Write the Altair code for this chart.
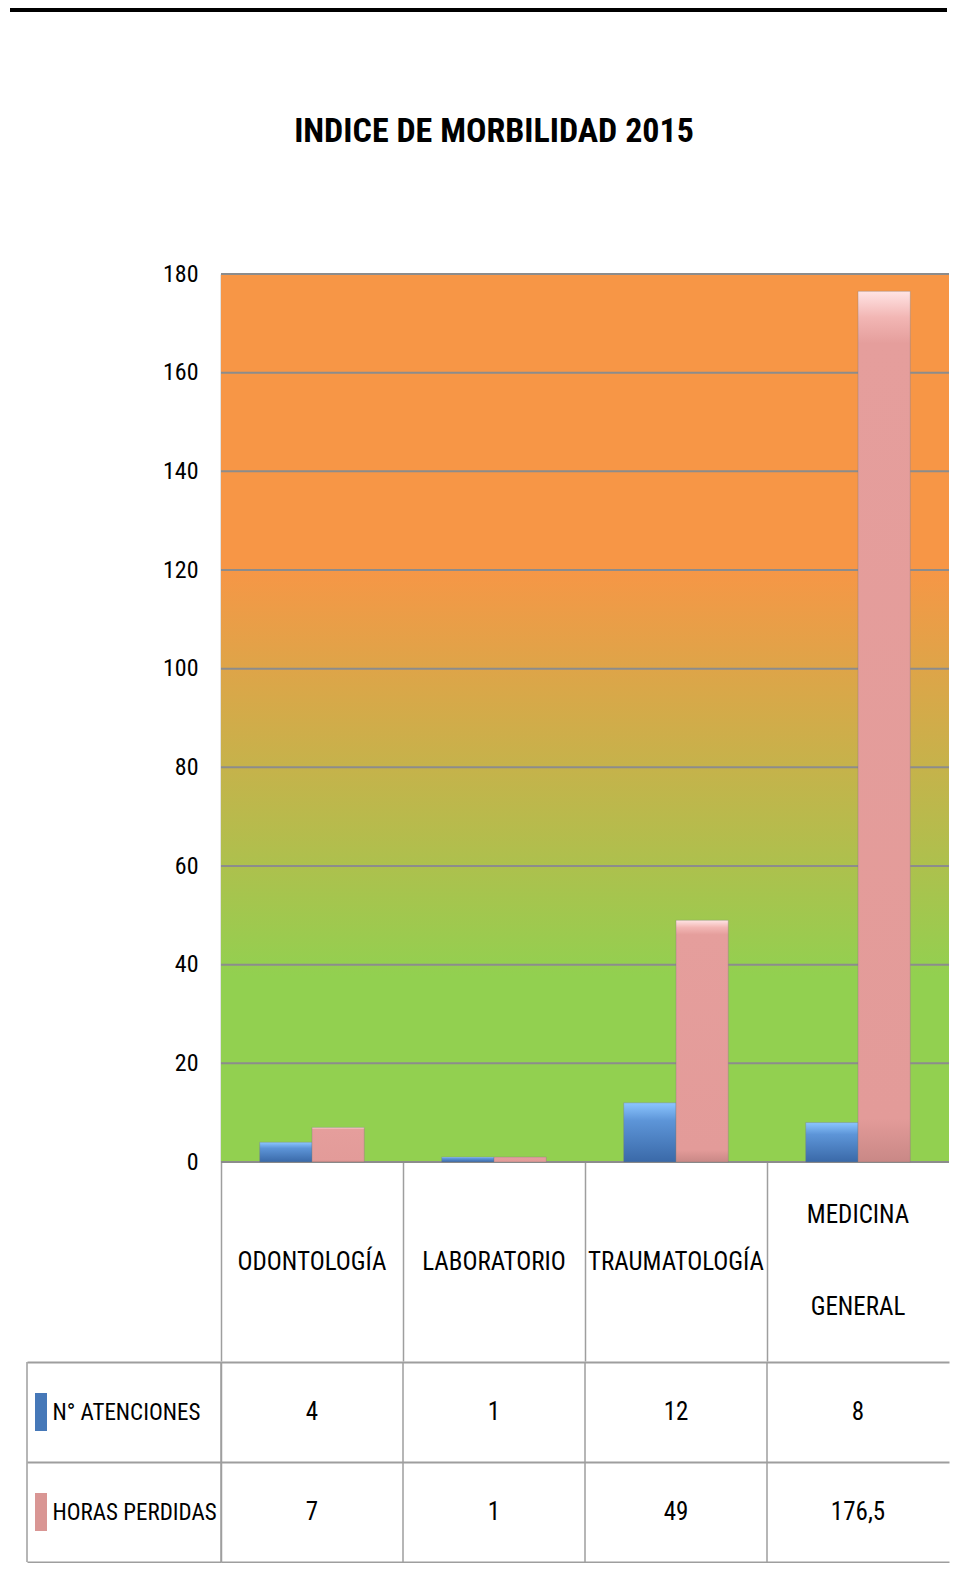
import altair as alt
import pandas as pd

# ---------------- data ----------------
categories = ["ODONTOLOGÍA", "LABORATORIO", "TRAUMATOLOGÍA", "MEDICINA GENERAL"]
series = ["N° ATENCIONES", "HORAS PERDIDAS"]
atenciones = [4, 1, 12, 8]
horas_perdidas = [7, 1, 49, 176.5]
y_ticks = [0, 20, 40, 60, 80, 100, 120, 140, 160, 180]
title_text = "INDICE DE MORBILIDAD 2015"

rows = []
for c, a, h in zip(categories, atenciones, horas_perdidas):
    rows.append({"cat": c, "serie": series[0], "value": a})
    rows.append({"cat": c, "serie": series[1], "value": h})
df = pd.DataFrame(rows)
ticks_df = pd.DataFrame({"tick": y_ticks})
cats_df = pd.DataFrame({"cat": categories})
one = pd.DataFrame({"k": [0]})

# ---------------- styling ----------------
FONT = "Roboto Condensed, Liberation Sans Narrow, Roboto, sans-serif"
W = 728          # visible plot width (keeps the page inside the window)
H = 888          # plot height
HEADER = 199     # category header height
ROW_H = 100
TABLE_H = 2 * ROW_H
LEFT_COL = 194
GRID = "#8C8C8C"
LINEC = "#9E9E9E"
SPACING = -11    # compensates the extent of the two-line header label


def grad(stops):
    return alt.LinearGradient(
        gradient="linear",
        stops=[alt.GradientStop(offset=o, color=c) for o, c in stops],
        x1=0, x2=0, y1=0, y2=1,
    )


bg_grad = grad([(0, "#F79646"), (0.33, "#F79646"), (0.79, "#92D050"), (1, "#92D050")])
blue_grad = grad([(0, "#8CC6FF"), (0.3, "#5D95D8"), (1, "#3A69A8")])
pink_grad = grad([(0, "#FFE4E4"), (0.03, "#F2B6B4"), (0.06, "#E59E9C"),
                  (0.95, "#E39B99"), (1, "#C98886")])

x_scale = alt.Scale(domain=categories, paddingInner=0, paddingOuter=0)
xo_scale = alt.Scale(domain=series, paddingInner=0, paddingOuter=0.74)
y_scale = alt.Scale(domain=[0, 180], nice=False, zero=True)
row_scale = alt.Scale(domain=series, paddingInner=0, paddingOuter=0)

y_axis = alt.Axis(
    title=None, values=y_ticks, grid=False, ticks=False, domain=True,
    domainColor=GRID, domainWidth=1.5, labelFont=FONT, labelFontSize=24,
    labelColor="black", labelPadding=23,
)
x_axis = alt.Axis(
    title=None, orient="bottom", domain=False, grid=False, ticks=True,
    tickSize=HEADER, tickColor=LINEC, tickWidth=1.5, bandPosition=0,
    labelPadding={"condition": {"test": "indexof(datum.value, ' ') >= 0", "value": -147}, "value": -100},
    labelFont=FONT, labelFontSize=25,
    labelColor="black", labelBaseline="middle", labelAngle=0, labelLimit=0,
    labelOverlap=False, labelLineHeight=92, labelExpr="split(datum.label, ' ')",
)

# ---------------- top rule ----------------
top_line = alt.Chart(one).mark_rule(color="black", strokeWidth=4).encode(
    x=alt.value(-211), x2=alt.value(W - 2), y=alt.value(2)
).properties(width=W, height=118)

# ---------------- bar chart ----------------
bg = alt.Chart(one).mark_rect(color=bg_grad).encode(
    x=alt.value(0), x2=alt.value(W), y=alt.value(0), y2=alt.value(H)
)
grid = alt.Chart(ticks_df).mark_rule(color=GRID, strokeWidth=2).encode(
    y=alt.Y("tick:Q", scale=y_scale, axis=y_axis),
    x=alt.value(0), x2=alt.value(W),
)


def bar_layer(name, color):
    return alt.Chart(df).transform_filter(alt.datum.serie == name).mark_bar(
        color=color, stroke="#7A7A7A", strokeOpacity=0.35, strokeWidth=1
    ).encode(
        x=alt.X("cat:N", scale=x_scale, axis=x_axis, sort=categories),
        xOffset=alt.XOffset("serie:N", scale=xo_scale),
        y=alt.Y("value:Q", scale=y_scale, axis=y_axis),
    )


bars = alt.layer(bg, grid, bar_layer(series[0], blue_grad), bar_layer(series[1], pink_grad)).properties(
    width=W, height=H,
    title=alt.Title(title_text, font=FONT, fontSize=34, fontWeight="bold", color="black",
                    anchor="middle", dx=-91, offset=113),
)

# ---------------- data table ----------------
table_y_axis = alt.Axis(
    title=None, orient="left", tickBand="extent", ticks=True, tickSize=LEFT_COL,
    tickColor=LINEC, tickWidth=2, grid=True, gridColor=LINEC, gridWidth=2,
    domain=True, domainColor=LINEC, domainWidth=1.5,
    labelAlign="left", labelBaseline="middle", labelPadding=-25, labelFont=FONT,
    labelFontSize=23, labelColor="black", labelLimit=0,
)

col_lines = alt.Chart(cats_df).mark_rule(color=LINEC, strokeWidth=1.5).encode(
    x=alt.X("cat:N", scale=x_scale, bandPosition=0, axis=None, sort=categories),
    y=alt.value(0), y2=alt.value(TABLE_H),
)
table_text = alt.Chart(df).transform_calculate(
    label="replace(toString(datum.value), '.', ',')"
).mark_text(font=FONT, fontSize=25, color="black", baseline="middle").encode(
    x=alt.X("cat:N", scale=x_scale, axis=None, sort=categories),
    y=alt.Y("serie:N", scale=row_scale, axis=table_y_axis, sort=series),
    text="label:N",
)
legend_marks = alt.Chart(pd.DataFrame({"serie": series})).mark_point(
    shape="M-0.316,-1L0.316,-1L0.316,1L-0.316,1Z", size=1444, filled=True, opacity=1
).encode(
    x=alt.value(-180),
    y=alt.Y("serie:N", scale=row_scale, axis=table_y_axis, sort=series),
    color=alt.Color("serie:N", scale=alt.Scale(domain=series, range=["#4678B8", "#D99694"]), legend=None),
)
left_border = alt.Chart(one).mark_rule(color=LINEC, strokeWidth=1.5).encode(
    x=alt.value(-LEFT_COL), y=alt.value(0), y2=alt.value(TABLE_H)
)
table = alt.layer(left_border, col_lines, legend_marks, table_text).properties(width=W, height=TABLE_H)

chart = alt.vconcat(top_line, bars, table, spacing=SPACING).properties(
    background="white",
    padding={"left": 0, "top": 0, "right": 0, "bottom": 0},
).configure_view(strokeWidth=0, stroke="transparent")

chart.save("out.html", embed_options={"renderer": "svg", "actions": False})
